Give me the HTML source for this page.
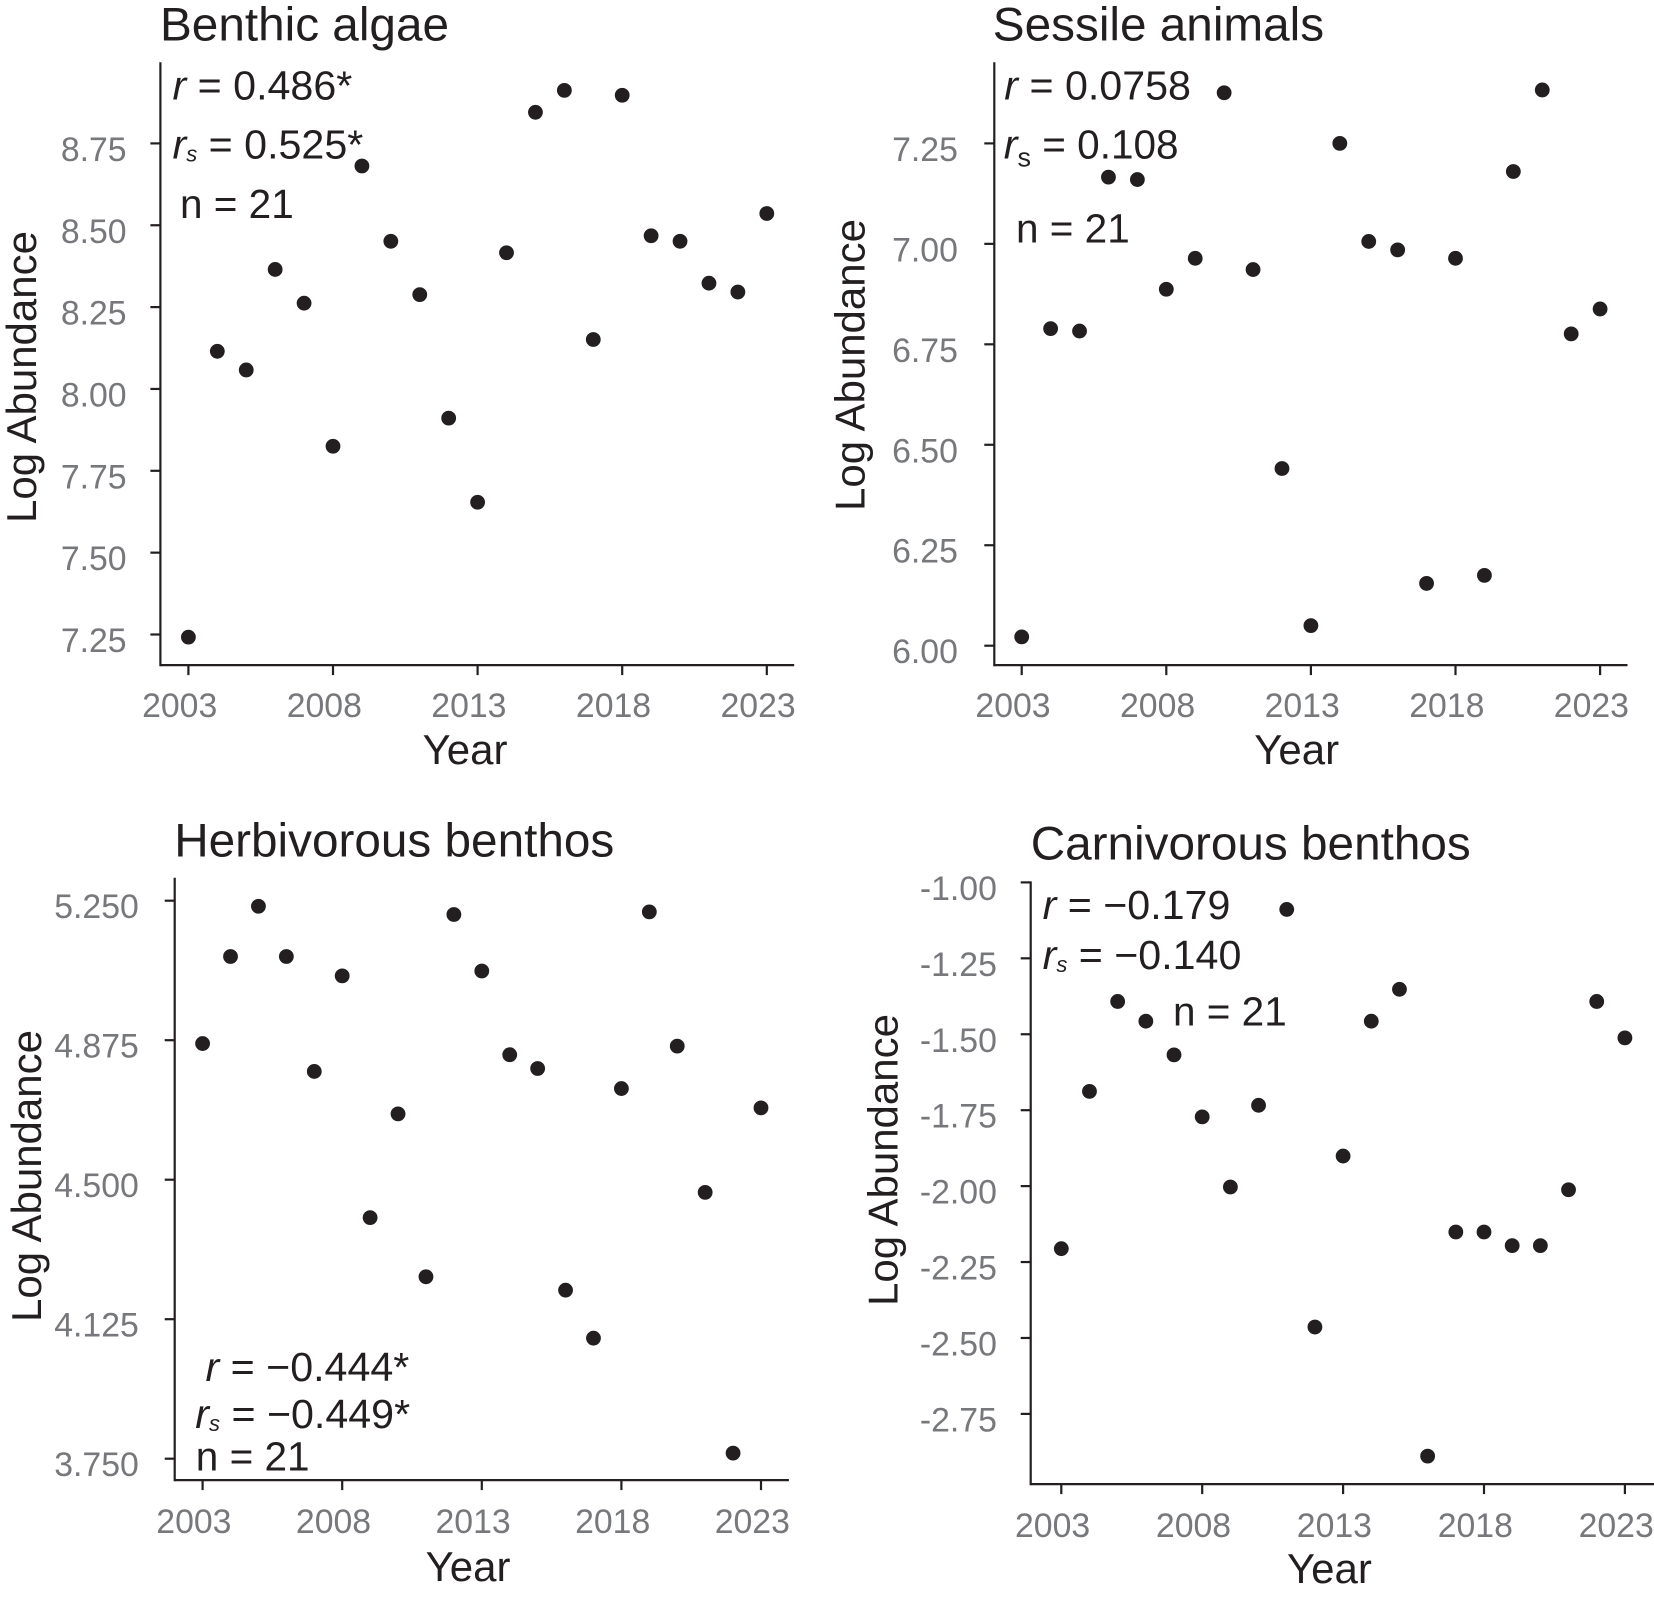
<!DOCTYPE html>
<html lang="en">
<head>
<meta charset="utf-8">
<title>Log abundance by year for four benthic groups</title>
<style>
  html, body { margin: 0; padding: 0; background: #fff; }
  svg { display: block; }
  text { font-family: "Liberation Sans", Arial, sans-serif; fill: #231f20; }
  .panel-title { font-size: 47.7px; }
  .axis-title { font-size: 42px; }
  .tick-label { font-size: 33.8px; fill: #77787b; }
  .stat { font-size: 41.2px; }
  .stat-n { font-size: 40.5px; }
  .axis-line, .tick-mark { stroke: #231f20; stroke-width: 2.2; fill: none; }
  .point { fill: #231f20; }
</style>
</head>
<body>
<svg id="chart" xmlns="http://www.w3.org/2000/svg" width="1654" height="1597" viewBox="0 0 1654 1597">
  <rect width="1654" height="1597" fill="#ffffff"/>

  <g id="panel-algae">
    <text class="panel-title" x="160" y="40.5">Benthic algae</text>
    <text class="stat" x="172.5" y="99.5"><tspan font-style="italic">r</tspan> = 0.486*</text>
    <text class="stat" x="172.5" y="158.5"><tspan font-style="italic">r</tspan><tspan font-style="italic" font-size="22" dy="3">s</tspan><tspan dy="-3"> = 0.525*</tspan></text>
    <text class="stat-n" x="180" y="218">n = 21</text>
    <text class="axis-title" text-anchor="middle" x="465" y="764">Year</text>
    <text class="axis-title" text-anchor="middle" transform="translate(36 377) rotate(-90)">Log Abundance</text>
  </g>

  <g id="panel-sessile">
    <text class="panel-title" x="992.8" y="40.5">Sessile animals</text>
    <text class="stat" x="1004.3" y="99.5"><tspan font-style="italic">r</tspan> = 0.0758</text>
    <text class="stat" x="1003.8" y="158.5"><tspan font-style="italic">r</tspan><tspan font-size="27" dy="8">s</tspan><tspan dy="-8" font-size="40.5px"> = 0.108</tspan></text>
    <text class="stat-n" x="1016" y="242.5">n = 21</text>
    <text class="axis-title" text-anchor="middle" x="1296.7" y="764">Year</text>
    <text class="axis-title" text-anchor="middle" transform="translate(864.6 365) rotate(-90)">Log Abundance</text>
  </g>

  <g id="panel-herbivorous">
    <text class="panel-title" x="174.2" y="856.5">Herbivorous benthos</text>
    <text class="stat" x="205.5" y="1381"><tspan font-style="italic">r</tspan> = −0.444*</text>
    <text class="stat" x="195.3" y="1428"><tspan font-style="italic">r</tspan><tspan font-style="italic" font-size="22" dy="3">s</tspan><tspan dy="-3"> = −0.449*</tspan></text>
    <text class="stat-n" x="195.8" y="1470.5">n = 21</text>
    <text class="axis-title" text-anchor="middle" x="468" y="1581">Year</text>
    <text class="axis-title" text-anchor="middle" transform="translate(41 1176) rotate(-90)">Log Abundance</text>
  </g>

  <g id="panel-carnivorous">
    <text class="panel-title" x="1030.7" y="859.5">Carnivorous benthos</text>
    <text class="stat" x="1042.6" y="919"><tspan font-style="italic">r</tspan> = −0.179</text>
    <text class="stat" x="1042.6" y="969"><tspan font-style="italic">r</tspan><tspan font-style="italic" font-size="22" dy="3">s</tspan><tspan dy="-3"> = −0.140</tspan></text>
    <text class="stat-n" x="1173" y="1025.6">n = 21</text>
    <text class="axis-title" text-anchor="middle" x="1329.4" y="1583">Year</text>
    <text class="axis-title" text-anchor="middle" transform="translate(897.3 1160) rotate(-90)">Log Abundance</text>
  </g>
</svg>

<script>
// ---- Chart data ----
const years = [2003, 2004, 2005, 2006, 2007, 2008, 2009, 2010, 2011, 2012, 2013, 2014, 2015, 2016, 2017, 2018, 2019, 2020, 2021, 2022, 2023];
const xTickYears = [2003, 2008, 2013, 2018, 2023];

const algaeValues = [7.242, 8.115, 8.058, 8.365, 8.262, 7.825, 8.681, 8.451, 8.288, 7.911, 7.654, 8.416, 8.845, 8.912, 8.151, 8.897, 8.468, 8.451, 8.323, 8.296, 8.536];
const algaeTicks = [8.75, 8.50, 8.25, 8.00, 7.75, 7.50, 7.25];

const sessileValues = [6.022, 6.789, 6.783, 7.166, 7.160, 6.887, 6.964, 7.376, 6.936, 6.441, 6.050, 7.250, 7.006, 6.985, 6.155, 6.964, 6.175, 7.180, 7.383, 6.776, 6.838];
const sessileTicks = [7.25, 7.00, 6.75, 6.50, 6.25, 6.00];

const herbivorousValues = [4.866, 5.100, 5.235, 5.100, 4.791, 5.048, 4.398, 4.677, 4.239, 5.213, 5.061, 4.836, 4.799, 4.203, 4.074, 4.745, 5.220, 4.859, 4.466, 3.765, 4.693];
const herbivorousTicks = [5.250, 4.875, 4.500, 4.125, 3.750];

const carnivorousValues = [-2.206, -1.688, -1.392, -1.457, -1.568, -1.772, -2.003, -1.734, -1.089, -2.464, -1.901, -1.457, -1.352, -2.889, -2.151, -2.151, -2.196, -2.196, -2.012, -1.392, -1.512];
const carnivorousTicks = [-1.00, -1.25, -1.50, -1.75, -2.00, -2.25, -2.50, -2.75];

// ---- Panel geometry ----
const SVG_NS = 'http://www.w3.org/2000/svg';

function makeXScale(g) {
  return function (year) {
    return g.x2003 + (year - 2003) * (g.x2023 - g.x2003) / 20;
  };
}

function makeYScale(g) {
  return function (value) {
    return g.yHi + (g.vHi - value) * (g.yLo - g.yHi) / (g.vHi - g.vLo);
  };
}

function drawPanel(groupId, g, values, ticks, decimals) {
  const root = document.getElementById(groupId);
  const xScale = makeXScale(g);
  const yScale = makeYScale(g);

  const yAxis = document.createElementNS(SVG_NS, 'line');
  yAxis.setAttribute('class', 'axis-line');
  yAxis.setAttribute('x1', g.axisX);
  yAxis.setAttribute('x2', g.axisX);
  yAxis.setAttribute('y1', g.top);
  yAxis.setAttribute('y2', g.axisY + 1.1);
  
  
  root.appendChild(yAxis);

  const xAxis = document.createElementNS(SVG_NS, 'line');
  xAxis.setAttribute('class', 'axis-line');
  xAxis.setAttribute('x1', g.axisX);
  xAxis.setAttribute('x2', g.right);
  xAxis.setAttribute('y1', g.axisY);
  xAxis.setAttribute('y2', g.axisY);
  
  
  root.appendChild(xAxis);

  ticks.forEach(function (value) {
    const py = yScale(value);

    const mark = document.createElementNS(SVG_NS, 'line');
    mark.setAttribute('class', 'tick-mark');
    mark.setAttribute('x1', g.axisX - 10);
    mark.setAttribute('x2', g.axisX);
    mark.setAttribute('y1', py);
    mark.setAttribute('y2', py);
    
    
    root.appendChild(mark);

    const label = document.createElementNS(SVG_NS, 'text');
    label.setAttribute('class', 'tick-label');
    label.setAttribute('text-anchor', 'end');
    label.setAttribute('x', g.yLabelX);
    label.setAttribute('y', py + 17.5);
    
    
    label.textContent = value.toFixed(decimals);
    root.appendChild(label);
  });

  xTickYears.forEach(function (year) {
    const px = xScale(year);

    const mark = document.createElementNS(SVG_NS, 'line');
    mark.setAttribute('class', 'tick-mark');
    mark.setAttribute('x1', px);
    mark.setAttribute('x2', px);
    mark.setAttribute('y1', g.axisY);
    mark.setAttribute('y2', g.axisY + 10);
    
    
    root.appendChild(mark);

    const label = document.createElementNS(SVG_NS, 'text');
    label.setAttribute('class', 'tick-label');
    label.setAttribute('text-anchor', 'middle');
    label.setAttribute('x', px - 8.7);
    label.setAttribute('y', g.xLabelY);
    
    
    label.textContent = String(year);
    root.appendChild(label);
  });

  values.forEach(function (value, i) {
    const dot = document.createElementNS(SVG_NS, 'circle');
    dot.setAttribute('class', 'point');
    dot.setAttribute('cx', xScale(years[i]));
    dot.setAttribute('cy', yScale(value));
    dot.setAttribute('r', 7.4);
    
    
    root.appendChild(dot);
  });
}

drawPanel('panel-algae',
  { axisX: 160.4, axisY: 665.1, top: 62.3, right: 794.2, x2003: 188.4, x2023: 766.8, yHi: 143.4, yLo: 634.5, vHi: 8.75, vLo: 7.25, yLabelX: 126.6, xLabelY: 717 },
  algaeValues, algaeTicks, 2);

drawPanel('panel-sessile',
  { axisX: 994.3, axisY: 665.1, top: 62.3, right: 1627.5, x2003: 1021.7, x2023: 1600.1, yHi: 143.4, yLo: 645.7, vHi: 7.25, vLo: 6.00, yLabelX: 957.9, xLabelY: 717 },
  sessileValues, sessileTicks, 2);

drawPanel('panel-herbivorous',
  { axisX: 174.7, axisY: 1480.1, top: 877.8, right: 788.9, x2003: 202.6, x2023: 761, yHi: 900.7, yLo: 1458.7, vHi: 5.25, vLo: 3.75, yLabelX: 138.8, xLabelY: 1533 },
  herbivorousValues, herbivorousTicks, 3);

drawPanel('panel-carnivorous',
  { axisX: 1030.7, axisY: 1484.1, top: 881.4, right: 1654, x2003: 1061.3, x2023: 1624.9, yHi: 882.4, yLo: 1413.9, vHi: -1.00, vLo: -2.75, yLabelX: 996.9, xLabelY: 1537 },
  carnivorousValues, carnivorousTicks, 2);
</script>
</body>
</html>
